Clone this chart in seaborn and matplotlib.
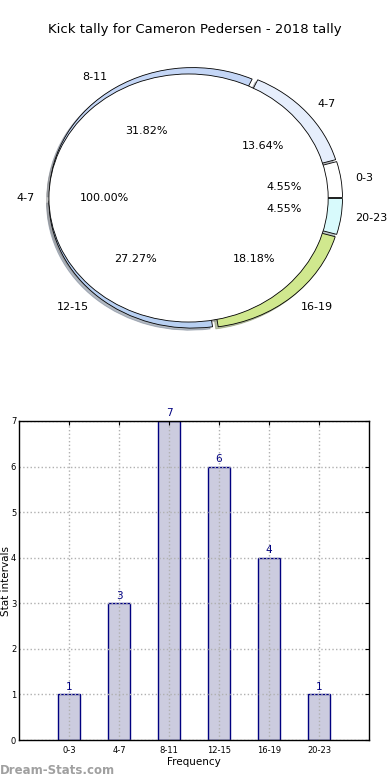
import matplotlib
matplotlib.use('Agg')
import matplotlib.pyplot as plt
import pandas as pd
import seaborn as sns

# Data
intervals = ['0-3', '4-7', '8-11', '12-15', '16-19', '20-23']
kicks = [1, 3, 7, 6, 4, 1]
ring_colors = ['#ffffff', '#e6eefc', '#c4d6f6', '#b8d0f2', '#d0e88e', '#d8fafc']
inner_labels = ['4-7']
inner_values = [1]

sns.set_style('white')
plt.rcParams['font.family'] = ['DejaVu Sans']
plt.rcParams.update({'text.color': 'black', 'axes.labelcolor': 'black',
                     'xtick.color': 'black', 'ytick.color': 'black'})

fig = plt.figure(figsize=(3.9, 7.8), dpi=100)

# Pie: outer ring of slices, inner white pie covering the middle
shadow = {'ox': -0.012, 'oy': -0.012, 'shade': 0.45}
ax_pie = fig.add_axes([16 / 390, 1 - 357 / 780, 358 / 390, 318 / 780])
ax_pie.pie(kicks, labels=intervals, colors=ring_colors, autopct='%.2f%%',
           explode=[0.03] * len(kicks), shadow=shadow, startangle=0,
           counterclock=True, pctdistance=0.6, labeldistance=1.1,
           wedgeprops={'edgecolor': 'black', 'linewidth': 0.6},
           textprops={'fontsize': 8})
ax_pie.pie(inner_values, labels=inner_labels, colors=['white'], autopct='%.2f%%',
           explode=[0.045], shadow=shadow, radius=0.975, startangle=0,
           pctdistance=0.6, labeldistance=1.1,
           wedgeprops={'edgecolor': 'black', 'linewidth': 0.6},
           textprops={'fontsize': 8})
ax_pie.set_aspect('auto')
ax_pie.set_xlim(-1.25, 1.25)
ax_pie.set_ylim(-1.25, 1.25)

fig.text(0.5, 1 - 30 / 780, 'Kick tally for Cameron Pedersen - 2018 tally',
         ha='center', va='center', fontsize=9.5)

# Bar chart
df = pd.DataFrame({'interval': intervals, 'kicks': kicks})
ax_bar = fig.add_axes([19 / 390, 40 / 780, 350 / 390, 319 / 780])
sns.barplot(df, x='interval', y='kicks', ax=ax_bar, order=intervals,
            color='#ccccdf', saturation=1, width=0.45,
            edgecolor='#000080', linewidth=1)
for i, v in enumerate(kicks):
    ax_bar.text(i, v + 0.06, str(v), ha='center', va='bottom',
                color='#000080', fontsize=7.5)

ax_bar.set_xlim(-1, 6)
ax_bar.set_ylim(0, 7)
ax_bar.set_yticks(range(8))
ax_bar.set_axisbelow(False)
ax_bar.grid(True, linestyle=':', color='#b0b0b0', linewidth=1)
ax_bar.tick_params(axis='both', labelsize=6, direction='in', length=3,
                   top=True, right=True)
ax_bar.tick_params(axis='x', pad=4)
ax_bar.tick_params(axis='y', pad=2)
for s in ax_bar.spines.values():
    s.set_color('black')
    s.set_linewidth(1)
    s.set_zorder(5)
ax_bar.set_xlabel('Frequency', fontsize=7.5, labelpad=2)
ax_bar.set_ylabel('Stat intervals', fontsize=7.5)
ax_bar.yaxis.set_label_coords(-8 / 350, 0.5)

fig.text(0.0, 1 - 771 / 780, 'Dream-Stats.com', ha='left', va='center',
         fontsize=8.5, color='#a0a0a0', fontweight='bold')

fig.savefig('out.png', dpi=100)
